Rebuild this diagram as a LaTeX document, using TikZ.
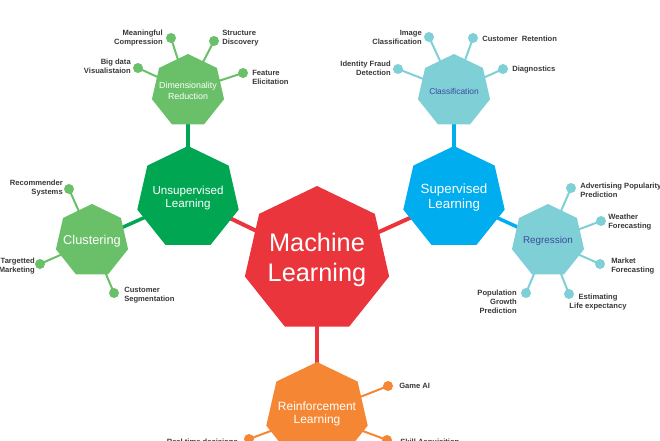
\documentclass[tikz,border=0pt]{standalone}
\usepackage{fontspec}
\setmainfont{Liberation Sans}
\definecolor{MLred}{HTML}{E9353B}
\definecolor{UnsupGreen}{HTML}{00A651}
\definecolor{LiteGreen}{HTML}{6ABF69}
\definecolor{SupBlue}{HTML}{00AEEF}
\definecolor{LiteTeal}{HTML}{7FCFD7}
\definecolor{ReinfOrange}{HTML}{F58634}
\definecolor{TealText}{HTML}{3D4A9E}
\definecolor{LeafGray}{HTML}{383838}
\usetikzlibrary{shapes.geometric,backgrounds}

\begin{document}
\begin{tikzpicture}[x=0.75pt,y=-0.75pt,
  hep/.style={regular polygon,regular polygon sides=7,inner sep=0pt},
  heptext/.style={align=center,text=white,inner sep=0pt},
  leafdot/.style={circle,inner sep=0pt,minimum size=7.5pt},
  leaftext/.style={font=\bfseries\fontsize{5.7}{6.75}\selectfont,text=LeafGray,inner sep=0pt}]
  \useasboundingbox (0,0) rectangle (660,440);

  \node[hep,fill=MLred,minimum size=111pt,
    label={[heptext,font=\fontsize{19}{23}\selectfont]center:Machine\\Learning}] (ml) at (317,260) {};
  \node[hep,fill=UnsupGreen,minimum size=78pt,
    label={[heptext,font=\fontsize{8.7}{10}\selectfont]center:Unsupervised\\Learning}] (unsup) at (188,198) {};
  \node[hep,fill=SupBlue,minimum size=78pt,
    label={[heptext,font=\fontsize{10}{11.25}\selectfont]center:Supervised\\Learning}] (sup) at (454,198) {};
  \node[hep,fill=ReinfOrange,minimum size=78pt,
    label={[heptext,font=\fontsize{9}{10}\selectfont]center:Reinforcement\\Learning}] (reinf) at (317,414) {};
  \node[hep,fill=LiteGreen,minimum size=55.5pt,
    label={[heptext,font=\fontsize{6.65}{8}\selectfont]center:Dimensionality\\Reduction}] (dimred) at (188,91) {};
  \node[hep,fill=LiteGreen,minimum size=55.5pt,
    label={[heptext,font=\fontsize{9.6}{11}\selectfont]center:Clustering}] (clust) at (92,241) {};
  \node[hep,fill=LiteTeal,minimum size=55.5pt,
    label={[heptext,text=TealText,font=\fontsize{6.3}{7.5}\selectfont]center:Classification}] (classif) at (454,91) {};
  \node[hep,fill=LiteTeal,minimum size=55.5pt,
    label={[heptext,text=TealText,font=\fontsize{7.4}{8.5}\selectfont]center:Regression}] (regr) at (548,241) {};

  \node[leafdot,fill=LiteGreen] (mc) at (171,38) {};
  \node[leafdot,fill=LiteGreen] (sd) at (214,41) {};
  \node[leafdot,fill=LiteGreen] (bv) at (138,68) {};
  \node[leafdot,fill=LiteGreen] (fe) at (243,73) {};
  \node[leaftext,anchor=east,align=right] (mc-t) at (163,38) {Meaningful\\Compression};
  \node[leaftext,anchor=west,align=left] (sd-t) at (222,38) {Structure\\Discovery};
  \node[leaftext,anchor=east,align=right] (bv-t) at (131,66) {Big data\\Visualistaion};
  \node[leaftext,anchor=west,align=left] (fe-t) at (252,77) {Feature\\Elicitation};

  \node[leafdot,fill=LiteTeal] (ic) at (429,37) {};
  \node[leafdot,fill=LiteTeal] (cr) at (473,38) {};
  \node[leafdot,fill=LiteTeal] (if) at (398,69) {};
  \node[leafdot,fill=LiteTeal] (dg) at (503,69) {};
  \node[leaftext,anchor=east,align=right] (ic-t) at (422,37) {Image\\Classification};
  \node[leaftext,anchor=west,align=left] (cr-t) at (482,39) {Customer\ \ Retention};
  \node[leaftext,anchor=east,align=right] (if-t) at (391,68) {Identity Fraud\\Detection};
  \node[leaftext,anchor=west,align=left] (dg-t) at (512,70) {Diagnostics};

  \node[leafdot,fill=LiteGreen] (rs) at (69,189) {};
  \node[leafdot,fill=LiteGreen] (tm) at (40,264) {};
  \node[leafdot,fill=LiteGreen] (cs) at (114,293) {};
  \node[leaftext,anchor=east,align=right] (rs-t) at (63,188) {Recommender\\Systems};
  \node[leaftext,anchor=east,align=right] (tm-t) at (35,266) {Targetted\\Marketing};
  \node[leaftext,anchor=west,align=left] (cs-t) at (124,295) {Customer\\Segmentation};

  \node[leafdot,fill=LiteTeal] (ap) at (571,188) {};
  \node[leafdot,fill=LiteTeal] (wf) at (601,221) {};
  \node[leafdot,fill=LiteTeal] (mf) at (600,264) {};
  \node[leafdot,fill=LiteTeal] (le) at (569,294) {};
  \node[leafdot,fill=LiteTeal] (pg) at (526,293) {};
  \node[leaftext,anchor=west,align=left] (ap-t) at (580,190) {Advertising Popularity\\Prediction};
  \node[leaftext,anchor=west,align=left] (wf-t) at (608,222) {Weather\\Forecasting};
  \node[leaftext,anchor=west,align=left] (mf-t) at (611,266) {Market\\Forecasting};
  \node[leaftext,align=center] (le-t) at (598,302) {Estimating\\Life expectancy};
  \node[leaftext,anchor=east,align=right] (pg-t) at (517,302) {Population\\Growth\\Prediction};

  \node[leafdot,fill=ReinfOrange] (ga) at (388,386) {};
  \node[leafdot,fill=ReinfOrange] (rt) at (249,439) {};
  \node[leafdot,fill=ReinfOrange] (sa) at (387,440) {};
  \node[leaftext,anchor=west] (ga-t) at (399,386) {Game AI};
  \node[leaftext,anchor=east] (rt-t) at (238,442) {Real time decisions};
  \node[leaftext,anchor=west] (sa-t) at (400,443) {Skill Acquisition};

  \begin{scope}[on background layer]
    \draw[MLred,line width=3pt] (ml.center) -- (unsup.center);
    \draw[MLred,line width=3pt] (ml.center) -- (sup.center);
    \draw[MLred,line width=3pt] (ml.center) -- (reinf.center);
    \draw[UnsupGreen,line width=2.6pt] (unsup.center) -- (dimred.center);
    \draw[UnsupGreen,line width=2.6pt] (unsup.center) -- (clust.center);
    \draw[SupBlue,line width=2.6pt] (sup.center) -- (classif.center);
    \draw[SupBlue,line width=2.6pt] (sup.center) -- (regr.center);
    \draw[LiteGreen,line width=1.5pt] (dimred.center) -- (mc.center);
    \draw[LiteGreen,line width=1.5pt] (dimred.center) -- (sd.center);
    \draw[LiteGreen,line width=1.5pt] (dimred.center) -- (bv.center);
    \draw[LiteGreen,line width=1.5pt] (dimred.center) -- (fe.center);
    \draw[LiteTeal,line width=1.5pt] (classif.center) -- (ic.center);
    \draw[LiteTeal,line width=1.5pt] (classif.center) -- (cr.center);
    \draw[LiteTeal,line width=1.5pt] (classif.center) -- (if.center);
    \draw[LiteTeal,line width=1.5pt] (classif.center) -- (dg.center);
    \draw[LiteGreen,line width=1.5pt] (clust.center) -- (rs.center);
    \draw[LiteGreen,line width=1.5pt] (clust.center) -- (tm.center);
    \draw[LiteGreen,line width=1.5pt] (clust.center) -- (cs.center);
    \draw[LiteTeal,line width=1.5pt] (regr.center) -- (ap.center);
    \draw[LiteTeal,line width=1.5pt] (regr.center) -- (wf.center);
    \draw[LiteTeal,line width=1.5pt] (regr.center) -- (mf.center);
    \draw[LiteTeal,line width=1.5pt] (regr.center) -- (le.center);
    \draw[LiteTeal,line width=1.5pt] (regr.center) -- (pg.center);
    \draw[ReinfOrange,line width=1.5pt] (reinf.center) -- (ga.center);
    \draw[ReinfOrange,line width=1.5pt] (reinf.center) -- (rt.center);
    \draw[ReinfOrange,line width=1.5pt] (reinf.center) -- (sa.center);
  \end{scope}
\end{tikzpicture}
\end{document}
